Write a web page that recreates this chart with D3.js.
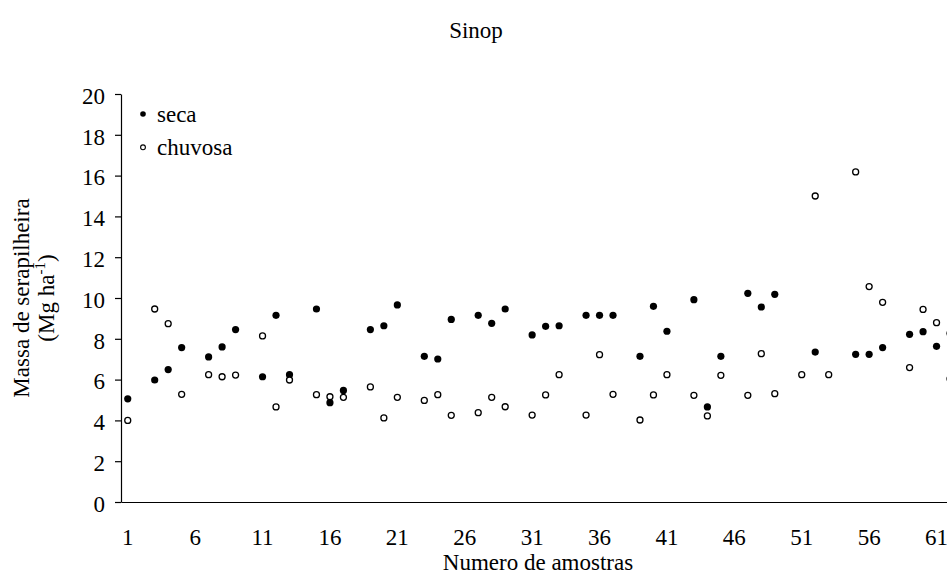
<!DOCTYPE html>
<html>
<head>
<meta charset="utf-8">
<script src="https://cdn.jsdelivr.net/npm/d3@7/dist/d3.min.js"></script>
<style>
  html, body { margin: 0; padding: 0; background: #fff; }
  svg { display: block; }
  text { font-family: "Liberation Serif", "Times New Roman", serif; fill: #000; }
</style>
</head>
<body>
<svg id="chart" width="947" height="575"></svg>
<script>
// Sample numbers along the x axis
const samples = d3.range(1, 63);
// Litter mass (Mg ha-1), dry season
const seca = [
  5.06, null, 5.98, 6.49, 7.57, null, 7.11, 7.60, 8.45, null,
  6.14, 9.15, 6.24, null, 9.46, 4.87, 5.47, null, 8.45, 8.64,
  9.66, null, 7.14, 7.01, 8.95, null, 9.15, 8.76, 9.46, null,
  8.19, 8.61, 8.64, null, 9.15, 9.15, 9.15, null, 7.14, 9.59,
  8.37, null, 9.92, 4.66, 7.14, null, 10.23, 9.56, 10.18, null,
  null, 7.35, null, null, 7.24, 7.24, 7.57, null, 8.22, 8.35,
  7.63, 8.27
];
// Litter mass (Mg ha-1), rainy season
const chuvosa = [
  4.00, null, 9.46, 8.74, 5.28, null, 6.24, 6.14, 6.22, null,
  8.14, 4.66, 5.98, null, 5.26, 5.16, 5.13, null, 5.64, 4.12,
  5.13, null, 4.98, 5.26, 4.25, null, 4.38, 5.13, 4.67, null,
  4.26, 5.25, 6.24, null, 4.26, 7.22, 5.28, null, 4.02, 5.25,
  6.24, null, 5.23, 4.22, 6.21, null, 5.23, 7.27, 5.31, null,
  6.24, 15.00, 6.24, null, 16.18, 10.56, 9.79, null, 6.59, 9.44,
  8.79, 6.04
];
const xTickLabels = [1, 6, 11, 16, 21, 26, 31, 36, 41, 46, 51, 56, 61];
const yTicks = [0, 2, 4, 6, 8, 10, 12, 14, 16, 18, 20];
const seriesNames = ["seca", "chuvosa"];

const svg = d3.select("#chart");
const plotLeft = 121, plotTop = 94, plotBottom = 502;
const fs = "23px";

const x = d3.scaleBand().domain(samples).range([plotLeft, plotLeft + samples.length * 13.48]);
const y = d3.scaleLinear().domain([0, 20]).range([plotBottom, plotTop]);
const cx = d => x(d) + x.bandwidth() / 2;

// Title
svg.append("text")
  .attr("x", 476).attr("y", 38)
  .attr("text-anchor", "middle")
  .style("font-size", fs)
  .text("Sinop");

// Y axis
const yAxis = svg.append("g")
  .attr("transform", `translate(${plotLeft},0)`)
  .call(d3.axisLeft(y).tickValues(yTicks).tickSize(6).tickSizeOuter(0).tickPadding(10));
yAxis.select(".domain").attr("stroke", "#000").attr("stroke-width", 1.2);
yAxis.selectAll(".tick line").attr("stroke", "#000").attr("stroke-width", 1.2);
yAxis.selectAll("text").style("font-size", fs).attr("font-family", null).attr("dy", "0.4em");

// X axis (no tick marks)
const xAxis = svg.append("g")
  .attr("transform", `translate(0,${plotBottom})`)
  .call(d3.axisBottom(x).tickValues(xTickLabels).tickSize(0).tickSizeOuter(0).tickPadding(27));
xAxis.select(".domain").attr("stroke", "#000").attr("stroke-width", 1.2);
xAxis.selectAll("text").style("font-size", fs).attr("font-family", null);

// Axis titles
svg.append("text")
  .attr("x", 538).attr("y", 570)
  .attr("text-anchor", "middle")
  .style("font-size", fs)
  .text("Numero de amostras");

const yTitle = svg.append("g").attr("transform", "translate(29,298) rotate(-90)");
yTitle.append("text")
  .attr("x", 0).attr("y", 0)
  .attr("text-anchor", "middle")
  .style("font-size", fs)
  .text("Massa de serapilheira");
const unit = yTitle.append("text")
  .attr("x", 0).attr("y", 25)
  .attr("text-anchor", "middle")
  .style("font-size", fs);
unit.append("tspan").text("(Mg ha");
unit.append("tspan").attr("dy", -9).style("font-size", "15px").text("-1");
unit.append("tspan").attr("dy", 9).text(")");

// Points
const pts = svg.append("g");
pts.selectAll("circle.seca")
  .data(samples.map((s, i) => ({ s, v: seca[i] })).filter(d => d.v != null))
  .join("circle")
  .attr("class", "seca")
  .attr("cx", d => cx(d.s)).attr("cy", d => y(d.v))
  .attr("r", 3.6).attr("fill", "#000");
pts.selectAll("circle.chuvosa")
  .data(samples.map((s, i) => ({ s, v: chuvosa[i] })).filter(d => d.v != null))
  .join("circle")
  .attr("class", "chuvosa")
  .attr("cx", d => cx(d.s)).attr("cy", d => y(d.v))
  .attr("r", 3).attr("fill", "#fff").attr("stroke", "#000").attr("stroke-width", 1.3);

// Legend
const legend = svg.append("g");
seriesNames.forEach((name, i) => {
  const ly = 114 + i * 33.3;
  if (name === "seca") {
    legend.append("circle").attr("cx", 143).attr("cy", ly).attr("r", 2.8).attr("fill", "#000");
  } else {
    legend.append("circle").attr("cx", 143).attr("cy", ly).attr("r", 2.4)
      .attr("fill", "#fff").attr("stroke", "#000").attr("stroke-width", 1.1);
  }
  legend.append("text")
    .attr("x", 157).attr("y", ly + 8)
    .style("font-size", fs)
    .text(name);
});
</script>
</body>
</html>
